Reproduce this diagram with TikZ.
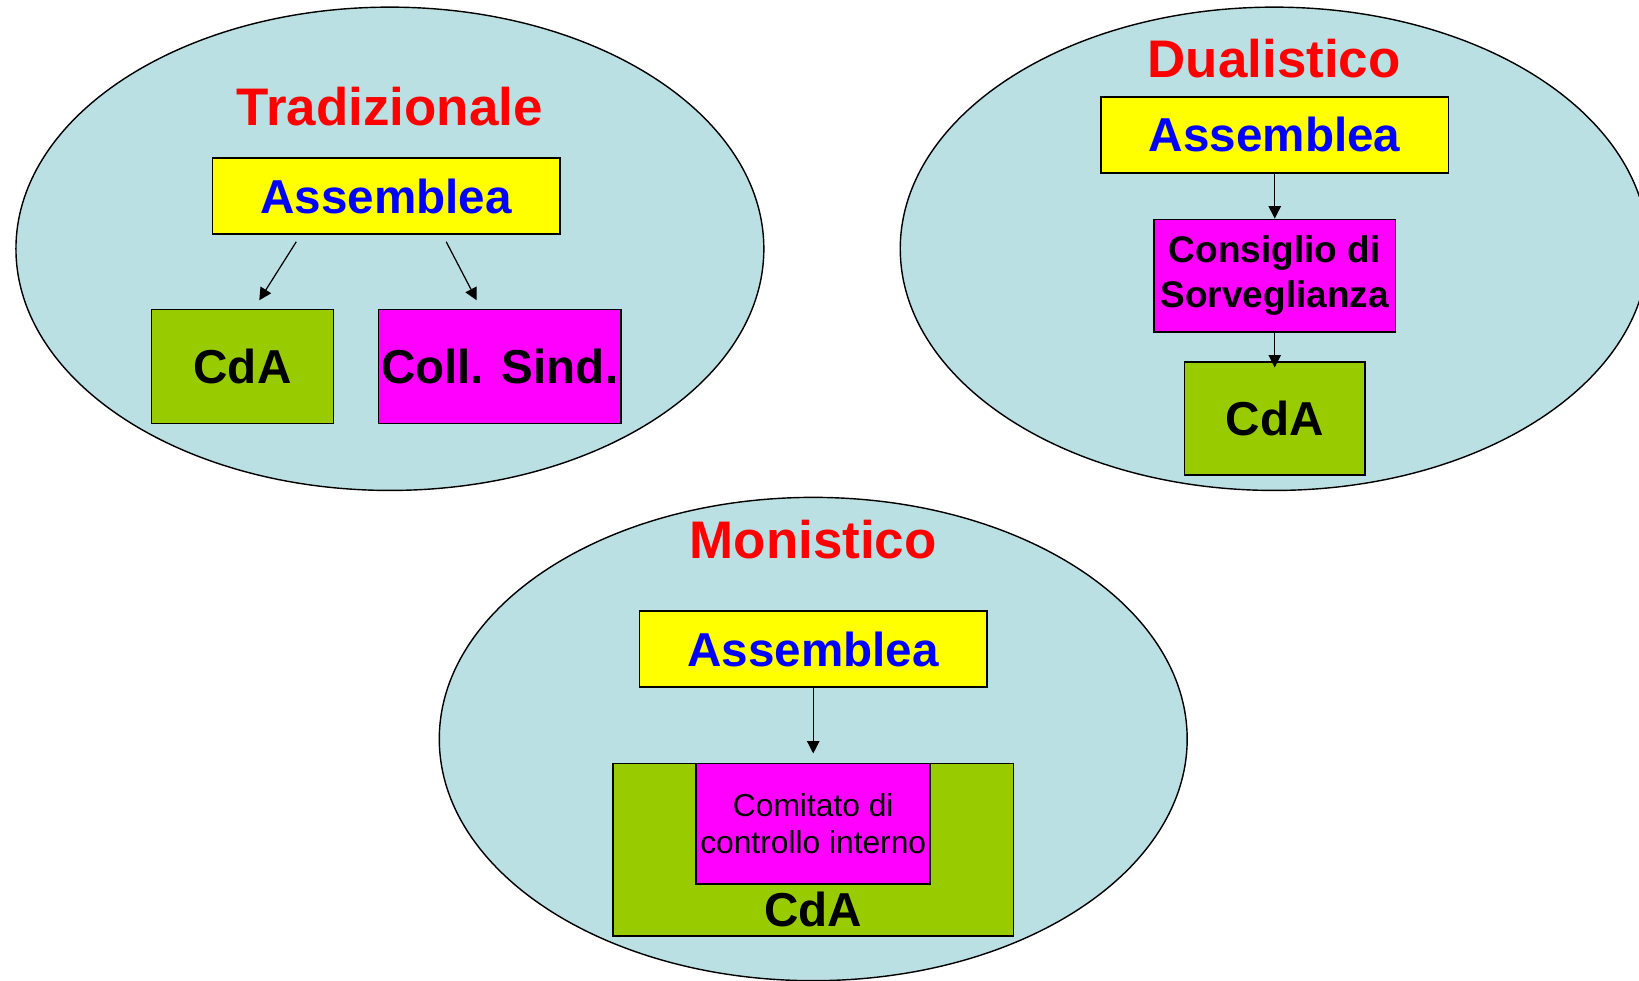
\documentclass[tikz,border=0pt]{standalone}
\usepackage{fontspec}
\setmainfont{Liberation Sans}
\usetikzlibrary{positioning, shapes.geometric, arrows.meta}

\definecolor{oval}{RGB}{187,224,227}
\definecolor{cdagreen}{RGB}{153,204,0}
\definecolor{sindpink}{RGB}{255,0,255}
\definecolor{asmyellow}{RGB}{255,255,0}
\definecolor{titlered}{RGB}{255,0,0}
\definecolor{asmblue}{RGB}{0,0,255}

\begin{document}
\begin{tikzpicture}[x=0.5926pt, y=-0.5926pt,
    model/.style={ellipse, draw, fill=oval, line width=0.8pt, minimum width=424pt, minimum height=274pt, inner sep=0pt},
    title/.style={text=titlered, font=\fontsize{30}{36}\selectfont\bfseries},
    asm/.style={rectangle, draw, fill=asmyellow, line width=0.9pt, minimum width=197pt, minimum height=43pt, inner sep=0pt, text=asmblue, font=\fontsize{27}{32}\selectfont\bfseries},
    organ/.style={rectangle, draw, line width=0.9pt, inner sep=0pt, minimum height=64.6pt, font=\fontsize{27}{32}\selectfont\bfseries},
    arr/.style={-{Triangle[length=7pt, width=7pt]}, line width=0.7pt}]
        \useasboundingbox (0,0) rectangle (1568,938);

        %-----Models-----

        % Tradizionale Model
        \node[model] (trad) at (373,238) {};
        \node[title] (ttrad) at (373,102) {Tradizionale};

        % Dualistico Model
        \node[model] (dual) at (1219,238) {};
        \node[title] (tdual) at (1219,56) {Dualistico};

        % Monistico Model
        \node[model] (mono) at (778,707) {};
        \node[title] (tmono) at (778,516) {Monistico};

        %-----Tradizionale Organs-----

        % Assemblea
        \node[asm] (asmt) at (369.5,187.5) {Assemblea};

        % CdA
        \node[organ, fill=cdagreen, minimum width=103pt] (cdat) at (232,350.5) {CdA};

        % Collegio Sindacale
        \node[organ, fill=sindpink, minimum width=137.5pt] (sind) at (478,350.5) {Coll. Sind.};

        \draw[arr] ([xshift=-51pt, yshift=-4pt]asmt.south) -- ([xshift=9.5pt, yshift=4.7pt]cdat.north);
        \draw[arr] ([xshift=34pt, yshift=-4pt]asmt.south) -- ([xshift=-13pt, yshift=4.7pt]sind.north);

        %-----Dualistico Organs-----

        % Assemblea
        \node[asm] (asmd) at (1219.5,129) {Assemblea};

        % Consiglio di Sorveglianza
        \node[organ, fill=sindpink, minimum width=137pt, minimum height=64pt, align=center, font=\fontsize{21}{25.5}\selectfont\bfseries, below=25.5pt of asmd] (sorv) {Consiglio di\\Sorveglianza};

        % CdA
        \node[organ, fill=cdagreen, minimum width=102.5pt, minimum height=64pt, below=16pt of sorv] (cdad) {CdA};

        \draw[arr] (asmd) -- (sorv);
        \draw[arr] (sorv.south) -- ([yshift=-3.5pt]cdad.north);

        %-----Monistico Organs-----

        % Assemblea
        \node[asm] (asmm) at (778,621) {Assemblea};

        % CdA
        \node[organ, fill=cdagreen, minimum width=227pt, minimum height=97.8pt, below=42.5pt of asmm] (cdam) {};
        \node[font=\fontsize{27}{32}\selectfont\bfseries, anchor=base] (tcdam) at ([yshift=5.9pt]cdam.south) {CdA};

        % Comitato di controllo interno
        \node[organ, fill=sindpink, minimum width=132.7pt, minimum height=68.1pt, align=center, font=\fontsize{18}{20.7}\selectfont, anchor=north] (comm) at (cdam.north) {Comitato di\\controllo interno};

        \draw[arr] (asmm) -- ([yshift=5.3pt]cdam.north);

\end{tikzpicture}
\end{document}
